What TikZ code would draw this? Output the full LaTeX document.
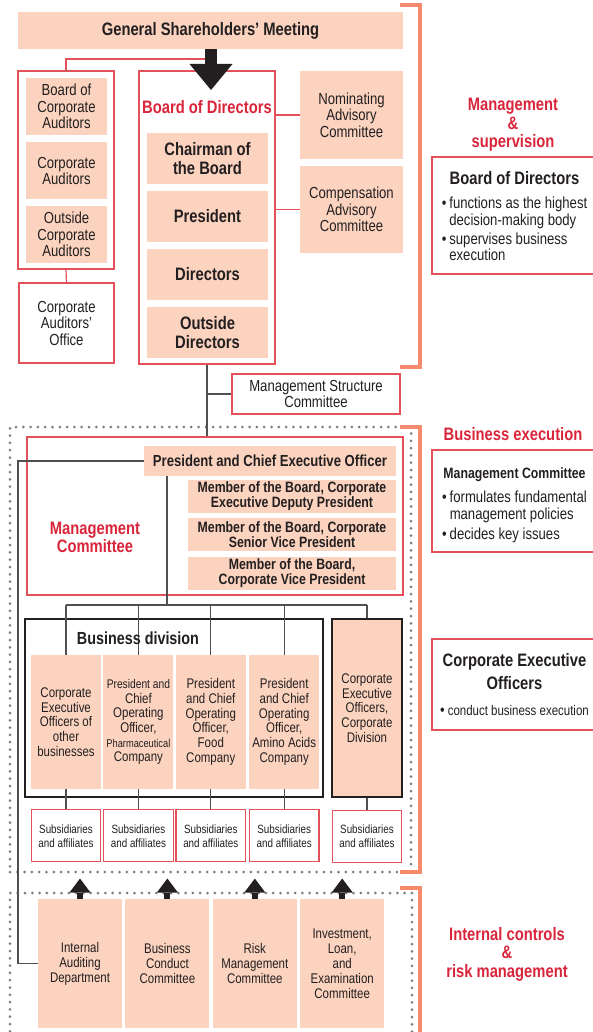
\documentclass[tikz,border=0pt]{standalone}
\usepackage{fontspec}
\setmainfont{Liberation Sans}[FakeStretch=0.82]
\usetikzlibrary{positioning, arrows.meta, calc}
\definecolor{peach}{HTML}{FBD3BF}
\definecolor{hired}{HTML}{D9253A}
\definecolor{boxred}{HTML}{E4515B}
\definecolor{bracketor}{HTML}{F58B6C}
\definecolor{ink}{HTML}{231F20}
\definecolor{wire}{HTML}{505050}
\definecolor{dotc}{HTML}{7F7F7F}
\newcommand{\fs}[2]{\fontsize{#1}{#2}\selectfont}

\begin{document}
\begin{tikzpicture}[
  x=1pt, y=-1pt,
  every node/.style={text=ink, align=center, inner sep=0pt},
  pk/.style={fill=peach, font=\fs{16}{16.5}},
  pkb/.style={fill=peach, font=\fs{18}{19}\bfseries},
  mb/.style={fill=peach, font=\fs{15}{15}\bfseries, minimum width=208pt, minimum height=33pt},
  col/.style={fill=peach, font=\fs{14}{14.7}, minimum width=70pt, minimum height=134pt},
  sub/.style={draw=boxred, line width=1.2pt, fill=white, font=\fs{12}{14}, minimum width=69.5pt, minimum height=52pt},
  ic/.style={fill=peach, font=\fs{14}{15}, minimum width=84pt, minimum height=129pt},
  frm/.style={draw=boxred, line width=1.2pt},
  rb/.style={draw=boxred, line width=1.2pt, fill=white, font=\fs{16}{16.5}},
  blk/.style={draw=ink, line width=2pt},
  hd/.style={text=hired, font=\fs{18}{18.5}\bfseries},
  info/.style={draw=boxred, line width=1.2pt, fill=white, minimum width=165pt, font=\fs{16}{16}},
  dotfr/.style={draw=dotc, line width=3pt, dash pattern=on 0pt off 7.3pt, line cap=round},
  brk/.style={draw=bracketor, line width=4pt},
  ln/.style={draw=wire, line width=1.3pt},
  rl/.style={draw=boxred, line width=1.2pt},
  bigar/.style={draw=ink, line width=12pt, -{Triangle[length=26pt, width=43pt, line width=0pt]}},
  upar/.style={draw=ink, line width=6pt, -{Triangle[length=14pt, width=21pt, line width=0pt]}},
]
\useasboundingbox (0,0) rectangle (592,1032);

\node[dotfr, minimum width=401pt, minimum height=445pt] (exe) at (210.5,649.5) {};
\node[dotfr, minimum width=402pt, minimum height=160pt] (ctl) at (211,973) {};

\draw[brk] (400,5) -| (420,367) -- (400,367);
\draw[brk] (400,427) -| (420,872) -- (400,872);
\draw[brk] (400,888) -| (420,1040);

\node[pkb, minimum width=385pt, minimum height=37pt] (gsm) at (210.5,30.5) {General Shareholders’ Meeting};

% auditors
\node[frm, minimum width=96pt, minimum height=198pt] (aud) at (66,170) {};
\node[pk, minimum width=81pt, minimum height=57pt] (bca) at (66.5,106.5) {Board of\\Corporate\\Auditors};
\node[pk, minimum width=81pt, minimum height=57pt, below=7pt of bca] (ca) {Corporate\\Auditors};
\node[pk, minimum width=81pt, minimum height=57pt, below=6pt of ca] (oca) {Outside\\Corporate\\Auditors};
\node[rb, minimum width=95pt, minimum height=80pt] (off) at (66.5,323) {Corporate\\Auditors’\\Office};

% board
\node[frm, minimum width=136pt, minimum height=293pt] (bod) at (207,217.5) {};
\node[hd] (bodt) at (207,107) {Board of Directors};
\node[pkb, minimum width=121pt, minimum height=51pt] (chr) at (207.5,158.5) {Chairman of\\the Board};
\node[pkb, minimum width=121pt, minimum height=51pt, below=6.5pt of chr] (pre) {President};
\node[pkb, minimum width=121pt, minimum height=51pt, below=6.5pt of pre] (dir) {Directors};
\node[pkb, minimum width=121pt, minimum height=51pt, below=6.5pt of dir] (odr) {Outside\\Directors};

\node[pk, minimum width=103pt, minimum height=88pt] (nac) at (351.5,115) {Nominating\\Advisory\\Committee};
\node[pk, minimum width=103pt, minimum height=87pt] (cac) at (351.5,209.5) {Compensation\\Advisory\\Committee};

\node[rb, minimum width=168pt, minimum height=40pt] (msc) at (316,394) {Management Structure\\Committee};

% management committee
\node[frm, minimum width=376pt, minimum height=158pt] (mc) at (215,516) {};
\node[hd, font=\fs{18}{18}\bfseries] (mct) at (95,537) {Management\\Committee};
\node[fill=peach, font=\fs{16}{16}\bfseries, minimum width=252pt, minimum height=30pt] (pceo) at (270,461) {President and Chief Executive Officer};
\node[mb] (vp1) at (292,496.5) {Member of the Board, Corporate\\Executive Deputy President};
\node[mb, below=5pt of vp1] (vp2) {Member of the Board, Corporate\\Senior Vice President};
\node[mb, below=5pt of vp2] (vp3) {Member of the Board,\\Corporate Vice President};

% business division
\coordinate (bus) at (167,605);
\node[blk, minimum width=298pt, minimum height=178pt] (bd) at (174,708) {};
\node[col] (c1) at (66,722) {Corporate\\Executive\\Officers of\\other\\businesses};
\node[col, right=2pt of c1] (c2) {{\fs{12.5}{14.7}President and}\\Chief\\Operating\\Officer,\\{\fs{11.3}{14.7}Pharmaceutical}\\Company};
\node[col, right=2pt of c2] (c3) {President\\and Chief\\Operating\\Officer,\\Food\\Company};
\node[col, right=3pt of c3] (c4) {President\\and Chief\\Operating\\Officer,\\Amino Acids\\Company};
\node[col, draw=ink, line width=2pt, minimum height=178pt] (cd) at (367,708) {Corporate\\Executive\\Officers,\\Corporate\\Division};
\foreach \i in {1,...,4}
  \node[sub, below=20pt of c\i] (s\i) {Subsidiaries\\and affiliates};
\node[sub, below=12pt of cd] (s5) {Subsidiaries\\and affiliates};

\draw[ln] (pceo.south -| bus) -- (bus);
\draw[ln] (c1.north |- bus) -- (cd.north |- bus);
\foreach \n in {c1,c2,c3,c4,cd}
  \draw[ln] (\n.north |- bus) -- (\n.north);
\foreach \a/\b in {c1/s1,c2/s2,c3/s3,c4/s4,cd/s5}
  \draw[ln] (\a.south) -- (\b.north);
\node[font=\fs{17.5}{18}\bfseries] (bdt) at (138,638) {Business division};

% internal controls
\node[ic] (i1) at (80,963.5) {Internal\\Auditing\\Department};
\node[ic, right=3pt of i1] (i2) {Business\\Conduct\\Committee};
\node[ic, right=3pt of i2] (i3) {Risk\\Management\\Committee};
\node[ic, right=3pt of i3] (i4) {Investment,\\Loan,\\and\\Examination\\Committee};
\foreach \n in {i1,i2,i3,i4}
  \draw[upar, shorten >=5pt] (\n.north) -- (\n.north |- exe.south);

% links
\coordinate (tip) at (211,90);
\coordinate (jn) at (211,59);
\coordinate (lft) at (18,0);
\draw[rl] (aud.north) |- (jn);
\draw[rl] (aud.south) -- (off.north);
\draw[rl] (nac.west) -- (nac.west -| bod.east);
\draw[rl] (cac.west) -- (cac.west -| bod.east);
\draw[bigar] (gsm.south -| tip) -- (tip);
\draw[ln] (bod.south) -- (bod.south |- mc.north);
\draw[ln] (msc.west) -- (msc.west -| bod.south);
\draw[ln] (pceo.west) -- (pceo.west -| lft) |- (i1.west);

% side notes
\node[hd] (ms) at (513,125) {Management\\\&\\supervision};
\node[info, minimum height=117pt] (bi) at (514.5,215.5) {%
  \begin{tabular}{@{}l@{\hspace{3pt}}l@{}}
  \multicolumn{2}{@{}c@{}}{\rule{0pt}{19pt}\fs{18}{18}\bfseries Board of Directors}\\[8pt]
  \textbullet & functions as the highest\\
   & decision-making body\\[3pt]
  \textbullet & supervises business\\
   & execution
  \end{tabular}};
\node[hd] (be) at (513,434) {Business execution};
\node[info, minimum height=102pt] (mi) at (514.5,501) {%
  \begin{tabular}{@{}l@{\hspace{3pt}}l@{}}
  \multicolumn{2}{@{}c@{}}{\rule{0pt}{21pt}\fs{15}{15}\bfseries Management Committee}\\[8pt]
  \textbullet & formulates fundamental\\
   & management policies\\[4pt]
  \textbullet & decides key issues
  \end{tabular}};
\node[info, minimum height=91pt] (ci) at (514.5,684.5) {%
  \begin{tabular}{@{}l@{\hspace{3pt}}l@{}}
  \multicolumn{2}{@{}c@{}}{\rule{0pt}{17pt}\fs{18}{21}\bfseries Corporate Executive}\\[5pt]
  \multicolumn{2}{@{}c@{}}{\fs{18}{21}\bfseries Officers}\\[10pt]
  \textbullet & {\fs{14}{16}conduct business execution}
  \end{tabular}};
\node[hd] (irm) at (507,954) {Internal controls\\\&\\risk management};
\end{tikzpicture}
\end{document}
